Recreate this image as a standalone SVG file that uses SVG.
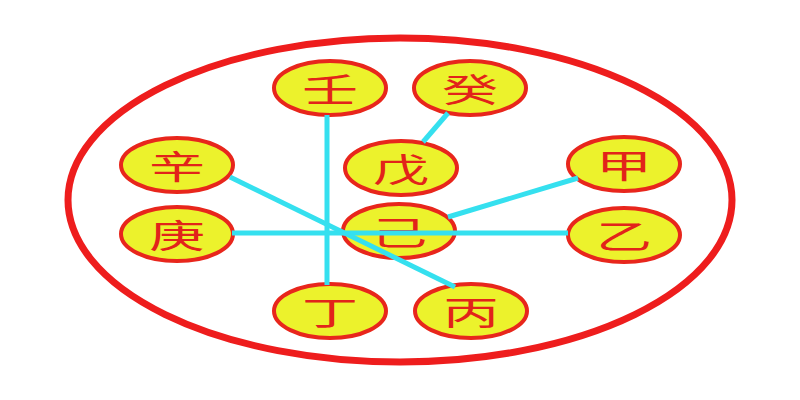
<svg xmlns="http://www.w3.org/2000/svg" width="800" height="400" viewBox="0 0 800 400">
<style>
.node ellipse{fill:#ecf22c;stroke:#e8261c;stroke-width:4}
.node text{fill:#e2231a;font-family:"Noto Sans CJK SC","Noto Sans CJK TC",sans-serif;font-size:33px;text-anchor:middle;dominant-baseline:central}
.conn line{stroke:#35e0ef;stroke-width:5;stroke-linecap:butt}
</style>
<rect width="800" height="400" fill="#ffffff"/>
<ellipse id="frame" cx="400" cy="200" rx="332" ry="162" fill="none" stroke="#ee1d1d" stroke-width="7"/>
<g id="n-ren" class="node"><ellipse cx="330" cy="88" rx="56" ry="27"/><text transform="translate(330,88) scale(1.7,1)">壬</text></g>
<g id="n-gui" class="node"><ellipse cx="470" cy="88" rx="56" ry="27"/><text transform="translate(470,88) scale(1.7,1)">癸</text></g>
<g id="n-xin" class="node"><ellipse cx="177" cy="165" rx="56" ry="27"/><text transform="translate(177,165) scale(1.7,1)">辛</text></g>
<g id="n-wu" class="node"><ellipse cx="401" cy="168" rx="56" ry="27"/><text transform="translate(401,168) scale(1.7,1)">戊</text></g>
<g id="n-jia" class="node"><ellipse cx="624" cy="164" rx="56" ry="27"/><text transform="translate(624,164) scale(1.7,1)">甲</text></g>
<g id="n-geng" class="node"><ellipse cx="177" cy="234" rx="56" ry="27"/><text transform="translate(177,234) scale(1.7,1)">庚</text></g>
<g id="n-ji" class="node"><ellipse cx="399" cy="231" rx="56" ry="27"/><text transform="translate(399,231) scale(1.7,1)">己</text></g>
<g id="n-yi" class="node"><ellipse cx="624" cy="235" rx="56" ry="27"/><text transform="translate(624,235) scale(1.7,1)">乙</text></g>
<g id="n-ding" class="node"><ellipse cx="330" cy="311" rx="56" ry="27"/><text transform="translate(330,311) scale(1.7,1)">丁</text></g>
<g id="n-bing" class="node"><ellipse cx="471" cy="311" rx="56" ry="27"/><text transform="translate(471,311) scale(1.7,1)">丙</text></g>
<g id="connectors" class="conn">
<line x1="327" y1="115" x2="327" y2="285"/>
<line x1="232" y1="233" x2="568" y2="233"/>
<line x1="230" y1="177" x2="455" y2="287"/>
<line x1="578" y1="178" x2="448" y2="217"/>
<line x1="448" y1="113" x2="423" y2="142"/>
</g>
</svg>
